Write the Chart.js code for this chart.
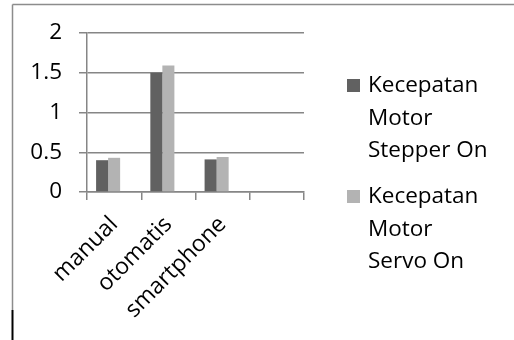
<!DOCTYPE html>
<html lang="id">

<head>
    <meta charset="UTF-8">
    <title>Kecepatan Motor</title>
    <script src="https://cdn.jsdelivr.net/npm/chart.js"></script>
    <style>
        body { margin: 0; background: #fff; }
    </style>
</head>

<body>
    <canvas id="grafico" width="514" height="340"></canvas>

    <script>
        // data
        const categories = ['manual', 'otomatis', 'smartphone', ''];
        const stepperOn = [0.40, 1.50, 0.41, null];
        const servoOn = [0.43, 1.59, 0.44, null];
        // third series is empty in the source, it only keeps its slot
        const emptySeries = [null, null, null, null];
        const yTicks = [0, 0.5, 1, 1.5, 2];
        const seriesNames = [
            ['Kecepatan', 'Motor', 'Stepper On'],
            ['Kecepatan', 'Motor', 'Servo On']
        ];

        const fonte = { family: "'Open Sans', sans-serif", size: 22.5 };

        // frame around the picture (top + left edge only)
        const moldura = {
            id: 'moldura',
            beforeDraw(chart) {
                const ctx = chart.ctx;
                ctx.save();
                ctx.strokeStyle = '#8c8c8c';
                ctx.lineWidth = 1.5;
                ctx.beginPath();
                ctx.moveTo(12.5, 4.5);
                ctx.lineTo(514, 4.5);
                ctx.moveTo(12.5, 4.5);
                ctx.lineTo(12.5, 310);
                ctx.stroke();
                ctx.strokeStyle = '#000';
                ctx.lineWidth = 2;
                ctx.beginPath();
                ctx.moveTo(12.5, 310);
                ctx.lineTo(12.5, 340);
                ctx.stroke();
                ctx.restore();
            }
        };

        // legend with wrapped labels, right of the plot
        const legenda = {
            id: 'legenda',
            afterDraw(chart) {
                const ctx = chart.ctx;
                const x = chart.chartArea.right + 43;
                const tops = [86, 197];
                ctx.save();
                ctx.font = fonte.size + 'px ' + fonte.family;
                ctx.textBaseline = 'middle';
                seriesNames.forEach((linhas, i) => {
                    ctx.fillStyle = chart.data.datasets[i].backgroundColor;
                    ctx.fillRect(x, tops[i] - 7, 13, 13);
                    ctx.fillStyle = '#000';
                    linhas.forEach((linha, j) => {
                        ctx.fillText(linha, x + 21, tops[i] + j * 32.5);
                    });
                });
                ctx.restore();
            }
        };

        const ctx = document.getElementById('grafico').getContext('2d');
        new Chart(ctx, {
            type: 'bar',
            data: {
                labels: categories,
                datasets: [{
                    label: seriesNames[0].join(' '),
                    data: stepperOn,
                    backgroundColor: '#616161'
                }, {
                    label: seriesNames[1].join(' '),
                    data: servoOn,
                    backgroundColor: '#b3b3b3'
                }, {
                    label: '',
                    data: emptySeries,
                    backgroundColor: '#888888'
                }]
            },
            options: {
                responsive: false,
                animation: false,
                layout: {
                    padding: { top: 33, right: 210, bottom: 0, left: 0 }
                },
                datasets: {
                    bar: {
                        barPercentage: 1,
                        categoryPercentage: 0.665
                    }
                },
                plugins: {
                    legend: { display: false },
                    tooltip: { enabled: false }
                },
                scales: {
                    x: {
                        afterFit: (s) => { s.height = 148; },
                        grid: {
                            drawOnChartArea: false,
                            drawTicks: true,
                            tickLength: 8,
                            color: '#868686',
                            lineWidth: 1.5
                        },
                        border: { color: '#868686', width: 1.5 },
                        ticks: {
                            color: '#000',
                            font: { family: fonte.family, size: 23 },
                            maxRotation: 45,
                            minRotation: 45,
                            padding: 11
                        }
                    },
                    y: {
                        min: 0,
                        max: 2,
                        afterFit: (s) => { s.width = 87; },
                        afterBuildTicks: (s) => { s.ticks = yTicks.map(v => ({ value: v })); },
                        grid: {
                            color: '#868686',
                            lineWidth: 1.5,
                            tickLength: 8
                        },
                        border: { color: '#868686', width: 1.5 },
                        ticks: {
                            color: '#000',
                            font: fonte,
                            padding: 17,
                            callback: (v) => String(v)
                        }
                    }
                }
            },
            plugins: [moldura, legenda]
        });
    </script>
</body>

</html>
